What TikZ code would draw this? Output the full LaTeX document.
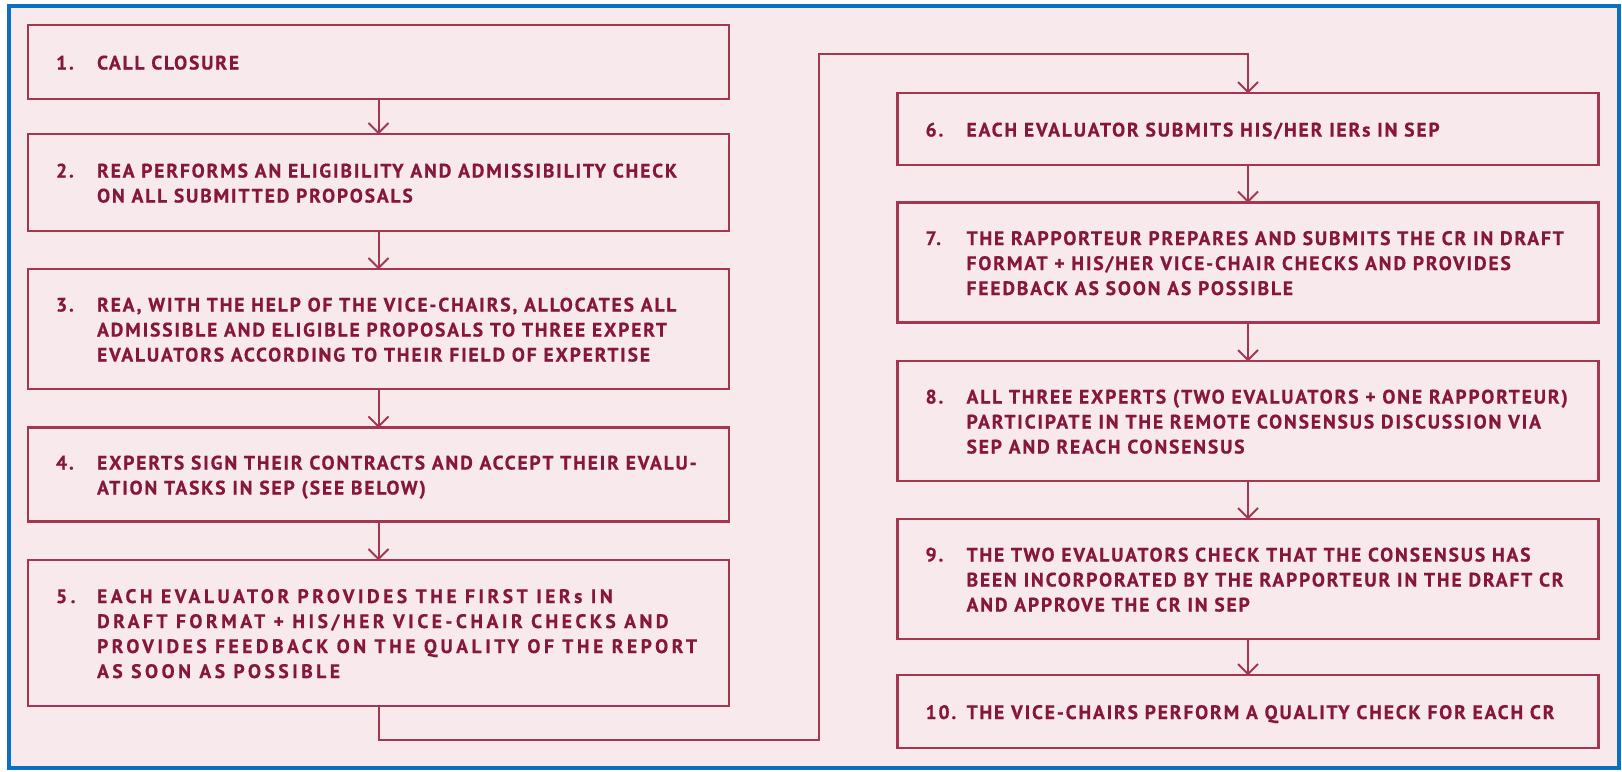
\documentclass[tikz,border=0pt]{standalone}
\usepackage{fontspec}
\setmainfont{PT Sans}
\newfontfamily\boxfont{PT Sans}[LetterSpace=9.5,FakeBold=0.6]
\newfontfamily\boxfontwide{PT Sans}[LetterSpace=18,FakeBold=0.6]
\usetikzlibrary{arrows.meta}
\definecolor{frameblue}{HTML}{0B70C2}
\definecolor{bgpink}{HTML}{F7E9EC}
\definecolor{boxcol}{HTML}{A5364F}
\definecolor{txtcol}{HTML}{87173A}
\newcommand\steptab[1]{\begin{tabular}{@{}p{41pt}@{}l@{}}#1\end{tabular}}
\tikzset{
  stepbox/.style={draw=boxcol, line width=2.2pt, minimum width=701pt, inner sep=0pt},
  lbl/.style={anchor=west, inner sep=0pt, text=txtcol, font=\boxfont\bfseries\fontsize{19.5}{25}\selectfont},
  lblwide/.style={lbl, font=\boxfontwide\bfseries\fontsize{19.5}{25}\selectfont},
  conn/.style={draw=boxcol, line width=2pt},
  arr/.style={conn, -{Straight Barb[length=10pt,width=20pt,line width=2pt]}}
}
\begin{document}
\begin{tikzpicture}[x=1pt,y=-1pt]
\useasboundingbox (0,0) rectangle (1622,771);
\fill[white] (0,0) rectangle (1622,771);
\draw[line width=4pt, draw=frameblue, fill=bgpink] (9,6) rectangle (1619,768);
% left column
\node[stepbox, minimum height=74pt]  (b1) at (378.5,62) {};
\node[stepbox, minimum height=97pt]  (b2) at (378.5,182.5) {};
\node[stepbox, minimum height=120pt] (b3) at (378.5,329) {};
\node[stepbox, minimum height=94pt]  (b4) at (378.5,474.5) {};
\node[stepbox, minimum height=146pt] (b5) at (378.5,633) {};
% right column
\node[stepbox, minimum height=72pt]  (b6) at (1248,129) {};
\node[stepbox, minimum height=120pt] (b7) at (1248,262.5) {};
\node[stepbox, minimum height=120pt] (b8) at (1248,421) {};
\node[stepbox, minimum height=120pt] (b9) at (1248,579) {};
\node[stepbox, minimum height=73pt]  (b10) at (1248,711.5) {};
% texts
\node[lbl] (t1) at ([xshift=29pt,yshift=-2.5pt]b1.west) {\steptab{1. & CALL CLOSURE}};
\node[lbl] (t2) at ([xshift=29pt,yshift=-2.5pt]b2.west) {\steptab{2. & REA PERFORMS AN ELIGIBILITY AND ADMISSIBILITY CHECK\\ & ON ALL SUBMITTED PROPOSALS}};
\node[lbl] (t3) at ([xshift=29pt,yshift=-2.5pt]b3.west) {\steptab{3. & REA, WITH THE HELP OF THE VICE-CHAIRS, ALLOCATES ALL\\ & ADMISSIBLE AND ELIGIBLE PROPOSALS TO THREE EXPERT\\ & EVALUATORS ACCORDING TO THEIR FIELD OF EXPERTISE}};
\node[lbl] (t4) at ([xshift=29pt,yshift=-2.5pt]b4.west) {\steptab{4. & EXPERTS SIGN THEIR CONTRACTS AND ACCEPT THEIR EVALU-\\ & ATION TASKS IN SEP (SEE BELOW)}};
\node[lblwide] (t5) at ([xshift=29pt,yshift=-2.5pt]b5.west) {\steptab{5. & EACH EVALUATOR PROVIDES THE FIRST IERs IN\\ & DRAFT FORMAT + HIS/HER VICE-CHAIR CHECKS AND\\ & PROVIDES FEEDBACK ON THE QUALITY OF THE REPORT\\ & AS SOON AS POSSIBLE}};
\node[lbl] (t6) at ([xshift=29pt,yshift=-2.5pt]b6.west) {\steptab{6. & EACH EVALUATOR SUBMITS HIS/HER IERs IN SEP}};
\node[lbl] (t7) at ([xshift=29pt,yshift=-2.5pt]b7.west) {\steptab{7. & THE RAPPORTEUR PREPARES AND SUBMITS THE CR IN DRAFT\\ & FORMAT + HIS/HER VICE-CHAIR CHECKS AND PROVIDES\\ & FEEDBACK AS SOON AS POSSIBLE}};
\node[lbl] (t8) at ([xshift=29pt,yshift=-2.5pt]b8.west) {\steptab{8. & ALL THREE EXPERTS (TWO EVALUATORS + ONE RAPPORTEUR)\\ & PARTICIPATE IN THE REMOTE CONSENSUS DISCUSSION VIA\\ & SEP AND REACH CONSENSUS}};
\node[lbl] (t9) at ([xshift=29pt,yshift=-2.5pt]b9.west) {\steptab{9. & THE TWO EVALUATORS CHECK THAT THE CONSENSUS HAS\\ & BEEN INCORPORATED BY THE RAPPORTEUR IN THE DRAFT CR\\ & AND APPROVE THE CR IN SEP}};
\node[lbl] (t10) at ([xshift=29pt,yshift=-2.5pt]b10.west) {\steptab{10. & THE VICE-CHAIRS PERFORM A QUALITY CHECK FOR EACH CR}};
% connectors
\draw[arr] (b1.south) -- ([yshift=-1.5pt]b2.north);
\draw[arr] (b2.south) -- ([yshift=-1.5pt]b3.north);
\draw[arr] (b3.south) -- ([yshift=-1.5pt]b4.north);
\draw[arr] (b4.south) -- ([yshift=-1.5pt]b5.north);
\coordinate (cA) at (819,740);
\coordinate (cB) at (819,54);
\draw[arr] (b5.south) |- (cA) -- (cB) -| ([yshift=-1.5pt]b6.north);
\draw[arr] (b6.south) -- ([yshift=-1.5pt]b7.north);
\draw[arr] (b7.south) -- ([yshift=-1.5pt]b8.north);
\draw[arr] (b8.south) -- ([yshift=-1.5pt]b9.north);
\draw[arr] (b9.south) -- ([yshift=-1.5pt]b10.north);
\end{tikzpicture}
\end{document}
